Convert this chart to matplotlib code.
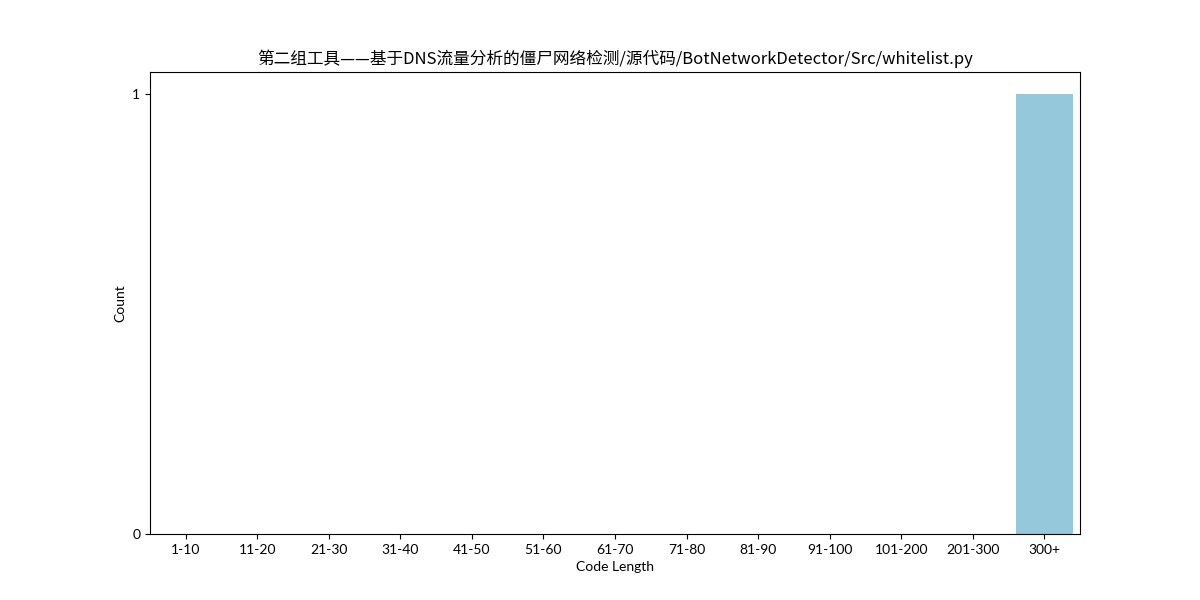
import matplotlib
matplotlib.use('Agg')
import matplotlib.pyplot as plt

plt.rcParams['font.family'] = ['Lato', 'Noto Sans CJK SC', 'DejaVu Sans']

rangos = ['1-10', '11-20', '21-30', '31-40', '41-50', '51-60', '61-70',
          '71-80', '81-90', '91-100', '101-200', '201-300', '300+']
conteos = [0, 0, 0, 0, 0, 0, 0, 0, 0, 0, 0, 0, 1]
titulo = '第二组工具——基于DNS流量分析的僵尸网络检测/源代码/BotNetworkDetector/Src/whitelist.py'

fig = plt.figure(figsize=(12, 6), dpi=100)
ax = plt.gca()
ax.bar(range(len(rangos)), conteos, width=0.8, color='#96c8dc')
ax.set_xlim(-0.5, len(rangos) - 0.5)
ax.set_xticks(range(len(rangos)))
ax.set_xticklabels(rangos)
ax.set_yticks([0, 1])
ax.set_title(titulo, family=['Noto Sans CJK SC', 'DejaVu Sans'])
ax.set_xlabel('Code Length')
ax.set_ylabel('Count')
plt.savefig('out.png')
